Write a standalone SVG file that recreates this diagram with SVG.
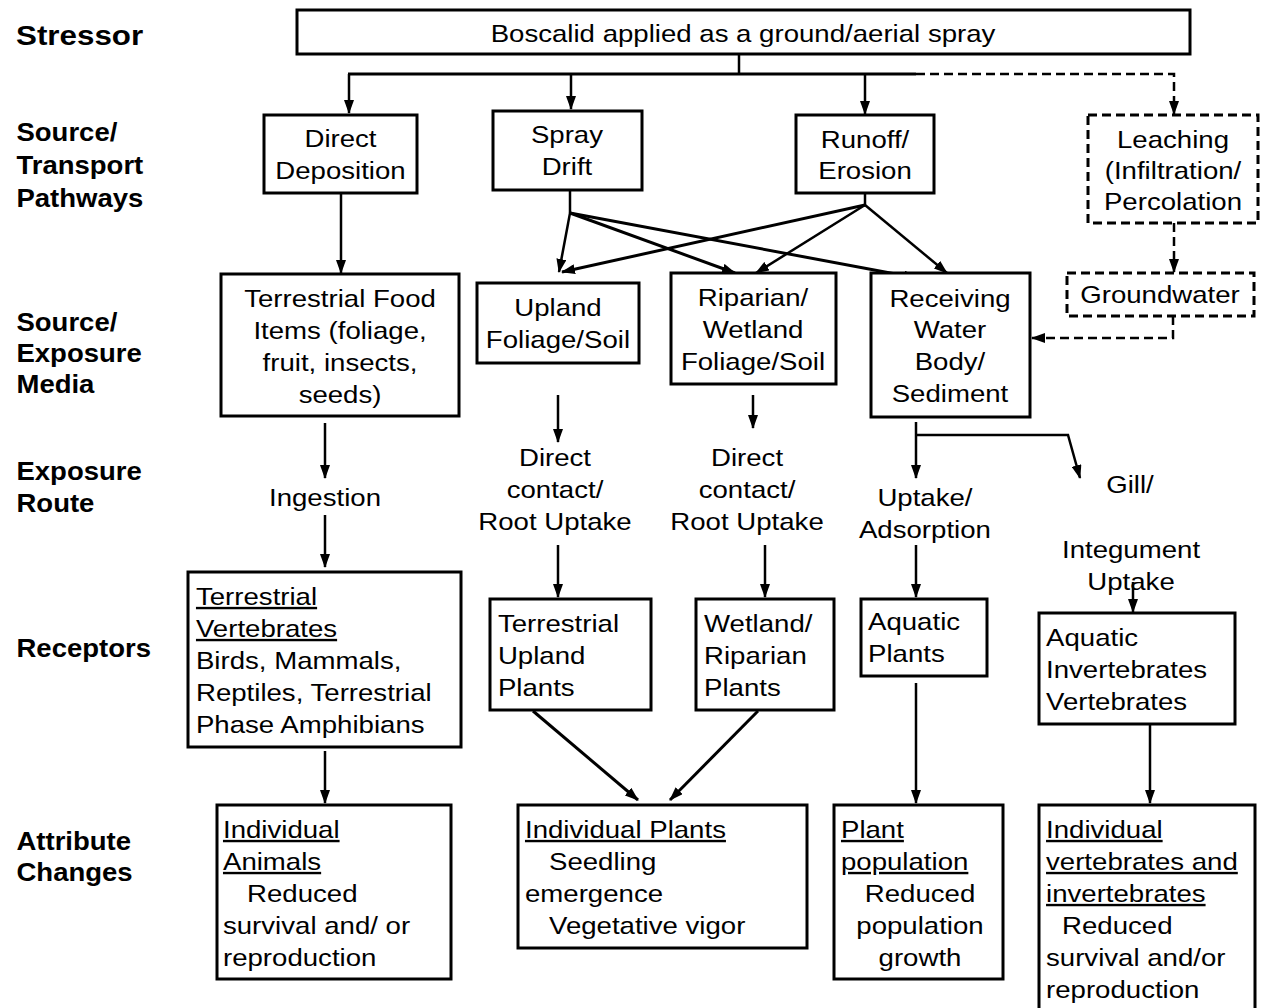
<svg xmlns="http://www.w3.org/2000/svg" width="1262" height="1008" viewBox="0 0 1262 1008">
<style>
text{font-family:"Liberation Sans",Arial,sans-serif;font-size:24px;fill:#000}
.lbl{font-weight:bold;font-size:25px}
.big{font-size:28px}
.c{text-anchor:middle}
.u{text-decoration:underline}
.box{fill:#fff;stroke:#000;stroke-width:3}
.dbox{fill:#fff;stroke:#000;stroke-width:3;stroke-dasharray:9 5}
.ln{fill:none;stroke:#000;stroke-width:2.5}
.dl{fill:none;stroke:#000;stroke-width:2.5;stroke-dasharray:9 5}
</style>
<defs>
<marker id="ah" markerUnits="userSpaceOnUse" markerWidth="14" markerHeight="10" refX="13" refY="5" orient="auto">
<path d="M0,0 L14,5 L0,10 z" fill="#000"/>
</marker>
</defs>
<rect width="1262" height="1008" fill="#fff"/>

<g id="labels">
<text class="lbl big" transform="scale(1.12 1)" x="14.3" y="45">Stressor</text>
<text class="lbl" transform="scale(1.1 1)" x="15" y="141">Source/</text>
<text class="lbl" transform="scale(1.1 1)" x="15" y="174">Transport</text>
<text class="lbl" transform="scale(1.1 1)" x="15" y="207">Pathways</text>
<text class="lbl" transform="scale(1.1 1)" x="15" y="331">Source/</text>
<text class="lbl" transform="scale(1.1 1)" x="15" y="362">Exposure</text>
<text class="lbl" transform="scale(1.1 1)" x="15" y="393">Media</text>
<text class="lbl" transform="scale(1.1 1)" x="15" y="480">Exposure</text>
<text class="lbl" transform="scale(1.1 1)" x="15" y="512">Route</text>
<text class="lbl" transform="scale(1.1 1)" x="15" y="657">Receptors</text>
<text class="lbl" transform="scale(1.1 1)" x="15" y="850">Attribute</text>
<text class="lbl" transform="scale(1.1 1)" x="15" y="881">Changes</text>
</g>

<g id="connectors">
<line class="ln" x1="739" y1="54" x2="739" y2="74"/>
<line class="ln" x1="348" y1="74" x2="916" y2="74" style="stroke-width:3"/>
<polyline class="dl" points="916,74 1174,74 1174,114" marker-end="url(#ah)"/>
<line class="ln" x1="349" y1="74" x2="349" y2="113" marker-end="url(#ah)"/>
<line class="ln" x1="571" y1="74" x2="571" y2="109" marker-end="url(#ah)"/>
<line class="ln" x1="865" y1="74" x2="865" y2="114" marker-end="url(#ah)"/>
<line class="ln" x1="341" y1="193" x2="341" y2="273" marker-end="url(#ah)"/>
<line class="ln" x1="570" y1="190" x2="570" y2="213"/>
<line class="ln" x1="570" y1="213" x2="559" y2="272" marker-end="url(#ah)"/>
<line class="ln" x1="570" y1="213" x2="735" y2="273" marker-end="url(#ah)" style="stroke-width:3"/>
<line class="ln" x1="570" y1="213" x2="917" y2="278" marker-end="url(#ah)" style="stroke-width:3"/>
<line class="ln" x1="865" y1="193" x2="865" y2="205"/>
<line class="ln" x1="865" y1="205" x2="562" y2="272" marker-end="url(#ah)" style="stroke-width:3"/>
<line class="ln" x1="865" y1="205" x2="756" y2="273" marker-end="url(#ah)"/>
<line class="ln" x1="865" y1="205" x2="947" y2="273" marker-end="url(#ah)"/>
<line class="dl" x1="1174" y1="223" x2="1174" y2="272" marker-end="url(#ah)"/>
<polyline class="dl" points="1173,316 1173,338 1032,338" marker-end="url(#ah)"/>
<line class="ln" x1="325" y1="423" x2="325" y2="478" marker-end="url(#ah)"/>
<line class="ln" x1="325" y1="515" x2="325" y2="567" marker-end="url(#ah)"/>
<line class="ln" x1="558" y1="395" x2="558" y2="442" marker-end="url(#ah)"/>
<line class="ln" x1="558" y1="545" x2="558" y2="597" marker-end="url(#ah)"/>
<line class="ln" x1="753" y1="395" x2="753" y2="428" marker-end="url(#ah)"/>
<line class="ln" x1="765" y1="545" x2="765" y2="597" marker-end="url(#ah)"/>
<line class="ln" x1="916" y1="422" x2="916" y2="478" marker-end="url(#ah)"/>
<polyline class="ln" points="916,435 1068,435 1080,478" marker-end="url(#ah)"/>
<line class="ln" x1="916" y1="545" x2="916" y2="597" marker-end="url(#ah)"/>
<line class="ln" x1="1133" y1="582" x2="1133" y2="612" marker-end="url(#ah)"/>
<line class="ln" x1="325" y1="751" x2="325" y2="803" marker-end="url(#ah)"/>
<line class="ln" x1="533" y1="711" x2="638" y2="800" marker-end="url(#ah)" style="stroke-width:3"/>
<line class="ln" x1="758" y1="711" x2="670" y2="800" marker-end="url(#ah)" style="stroke-width:3"/>
<line class="ln" x1="916" y1="683" x2="916" y2="803" marker-end="url(#ah)"/>
<line class="ln" x1="1150" y1="724" x2="1150" y2="803" marker-end="url(#ah)"/>
</g>

<g id="stressor">
<rect class="box" x="297" y="10" width="893" height="44"/>
<text class="c" transform="scale(1.15 1)" x="646.1" y="42">Boscalid applied as a ground/aerial spray</text>
</g>

<g id="direct-deposition">
<rect class="box" x="264" y="115" width="153" height="78"/>
<text class="c" transform="scale(1.15 1)" x="296.1" y="147">Direct</text>
<text class="c" transform="scale(1.15 1)" x="296.1" y="179">Deposition</text>
</g>

<g id="spray-drift">
<rect class="box" x="493" y="111" width="149" height="79"/>
<text class="c" transform="scale(1.15 1)" x="493" y="143">Spray</text>
<text class="c" transform="scale(1.15 1)" x="493" y="175">Drift</text>
</g>

<g id="runoff">
<rect class="box" x="796" y="115" width="138" height="78"/>
<text class="c" transform="scale(1.15 1)" x="752.2" y="148">Runoff/</text>
<text class="c" transform="scale(1.15 1)" x="752.2" y="179">Erosion</text>
</g>

<g id="leaching">
<rect class="dbox" x="1088" y="115" width="170" height="108"/>
<text class="c" transform="scale(1.15 1)" x="1020" y="148">Leaching</text>
<text class="c" transform="scale(1.15 1)" x="1020" y="179">(Infiltration/</text>
<text class="c" transform="scale(1.15 1)" x="1020" y="210">Percolation</text>
</g>

<g id="terrestrial-food">
<rect class="box" x="221" y="274" width="238" height="142"/>
<text class="c" transform="scale(1.15 1)" x="295.7" y="307">Terrestrial Food</text>
<text class="c" transform="scale(1.15 1)" x="295.7" y="339">Items (foliage,</text>
<text class="c" transform="scale(1.15 1)" x="295.7" y="371">fruit, insects,</text>
<text class="c" transform="scale(1.15 1)" x="295.7" y="403">seeds)</text>
</g>

<g id="upland-foliage">
<rect class="box" x="477" y="283" width="162" height="80"/>
<text class="c" transform="scale(1.15 1)" x="485.2" y="316">Upland</text>
<text class="c" transform="scale(1.15 1)" x="485.2" y="348">Foliage/Soil</text>
</g>

<g id="riparian-foliage">
<rect class="box" x="671" y="273" width="165" height="111"/>
<text class="c" transform="scale(1.15 1)" x="654.8" y="306">Riparian/</text>
<text class="c" transform="scale(1.15 1)" x="654.8" y="338">Wetland</text>
<text class="c" transform="scale(1.15 1)" x="654.8" y="370">Foliage/Soil</text>
</g>

<g id="receiving-water">
<rect class="box" x="871" y="273" width="159" height="144"/>
<text class="c" transform="scale(1.15 1)" x="826.1" y="307">Receiving</text>
<text class="c" transform="scale(1.15 1)" x="826.1" y="338">Water</text>
<text class="c" transform="scale(1.15 1)" x="826.1" y="370">Body/</text>
<text class="c" transform="scale(1.15 1)" x="826.1" y="402">Sediment</text>
</g>

<g id="groundwater">
<rect class="dbox" x="1067" y="273" width="187" height="43"/>
<text class="c" transform="scale(1.15 1)" x="1008.7" y="303">Groundwater</text>
</g>

<g id="routes">
<text class="c" transform="scale(1.15 1)" x="282.6" y="506">Ingestion</text>
<text class="c" transform="scale(1.15 1)" x="482.6" y="466">Direct</text>
<text class="c" transform="scale(1.15 1)" x="482.6" y="498">contact/</text>
<text class="c" transform="scale(1.15 1)" x="482.6" y="530">Root Uptake</text>
<text class="c" transform="scale(1.15 1)" x="649.6" y="466">Direct</text>
<text class="c" transform="scale(1.15 1)" x="649.6" y="498">contact/</text>
<text class="c" transform="scale(1.15 1)" x="649.6" y="530">Root Uptake</text>
<text class="c" transform="scale(1.15 1)" x="804.3" y="506">Uptake/</text>
<text class="c" transform="scale(1.15 1)" x="804.3" y="538">Adsorption</text>
<text class="c" transform="scale(1.15 1)" x="982.6" y="493">Gill/</text>
<text class="c" transform="scale(1.15 1)" x="983.5" y="558">Integument</text>
<text class="c" transform="scale(1.15 1)" x="983.5" y="590">Uptake</text>
</g>

<g id="terrestrial-vertebrates">
<rect class="box" x="188" y="572" width="273" height="175"/>
<text class="u" transform="scale(1.15 1)" x="170.4" y="605">Terrestrial</text>
<text class="u" transform="scale(1.15 1)" x="170.4" y="637">Vertebrates</text>
<text transform="scale(1.15 1)" x="170.4" y="669">Birds, Mammals,</text>
<text transform="scale(1.15 1)" x="170.4" y="701">Reptiles, Terrestrial</text>
<text transform="scale(1.15 1)" x="170.4" y="733">Phase Amphibians</text>
</g>

<g id="terrestrial-upland-plants">
<rect class="box" x="490" y="599" width="161" height="111"/>
<text transform="scale(1.15 1)" x="433" y="632">Terrestrial</text>
<text transform="scale(1.15 1)" x="433" y="664">Upland</text>
<text transform="scale(1.15 1)" x="433" y="696">Plants</text>
</g>

<g id="wetland-plants">
<rect class="box" x="696" y="599" width="138" height="111"/>
<text transform="scale(1.15 1)" x="612.2" y="632">Wetland/</text>
<text transform="scale(1.15 1)" x="612.2" y="664">Riparian</text>
<text transform="scale(1.15 1)" x="612.2" y="696">Plants</text>
</g>

<g id="aquatic-plants">
<rect class="box" x="861" y="599" width="126" height="77"/>
<text transform="scale(1.15 1)" x="754.8" y="630">Aquatic</text>
<text transform="scale(1.15 1)" x="754.8" y="662">Plants</text>
</g>

<g id="aquatic-invertebrates">
<rect class="box" x="1039" y="613" width="196" height="111"/>
<text transform="scale(1.15 1)" x="909.6" y="646">Aquatic</text>
<text transform="scale(1.15 1)" x="909.6" y="678">Invertebrates</text>
<text transform="scale(1.15 1)" x="909.6" y="710">Vertebrates</text>
</g>

<g id="individual-animals">
<rect class="box" x="217" y="805" width="234" height="174"/>
<text class="u" transform="scale(1.15 1)" x="193.9" y="838">Individual</text>
<text class="u" transform="scale(1.15 1)" x="193.9" y="870">Animals</text>
<text transform="scale(1.15 1)" x="214.8" y="902">Reduced</text>
<text transform="scale(1.15 1)" x="193.9" y="934">survival and/ or</text>
<text transform="scale(1.15 1)" x="193.9" y="966">reproduction</text>
</g>

<g id="individual-plants">
<rect class="box" x="518" y="805" width="289" height="143"/>
<text class="u" transform="scale(1.15 1)" x="456.5" y="838">Individual Plants</text>
<text transform="scale(1.15 1)" x="477.4" y="870">Seedling</text>
<text transform="scale(1.15 1)" x="456.5" y="902">emergence</text>
<text transform="scale(1.15 1)" x="477.4" y="934">Vegetative vigor</text>
</g>

<g id="plant-population">
<rect class="box" x="834" y="805" width="169" height="174"/>
<text class="u" transform="scale(1.15 1)" x="731.3" y="838">Plant</text>
<text class="u" transform="scale(1.15 1)" x="731.3" y="870">population</text>
<text class="c" transform="scale(1.15 1)" x="800" y="902">Reduced</text>
<text class="c" transform="scale(1.15 1)" x="800" y="934">population</text>
<text class="c" transform="scale(1.15 1)" x="800" y="966">growth</text>
</g>

<g id="individual-vertebrates">
<rect class="box" x="1039" y="805" width="216" height="210"/>
<text class="u" transform="scale(1.15 1)" x="909.6" y="838">Individual</text>
<text class="u" transform="scale(1.15 1)" x="909.6" y="870">vertebrates and</text>
<text class="u" transform="scale(1.15 1)" x="909.6" y="902">invertebrates</text>
<text transform="scale(1.15 1)" x="923.5" y="934">Reduced</text>
<text transform="scale(1.15 1)" x="909.6" y="966">survival and/or</text>
<text transform="scale(1.15 1)" x="909.6" y="998">reproduction</text>
</g>
</svg>
